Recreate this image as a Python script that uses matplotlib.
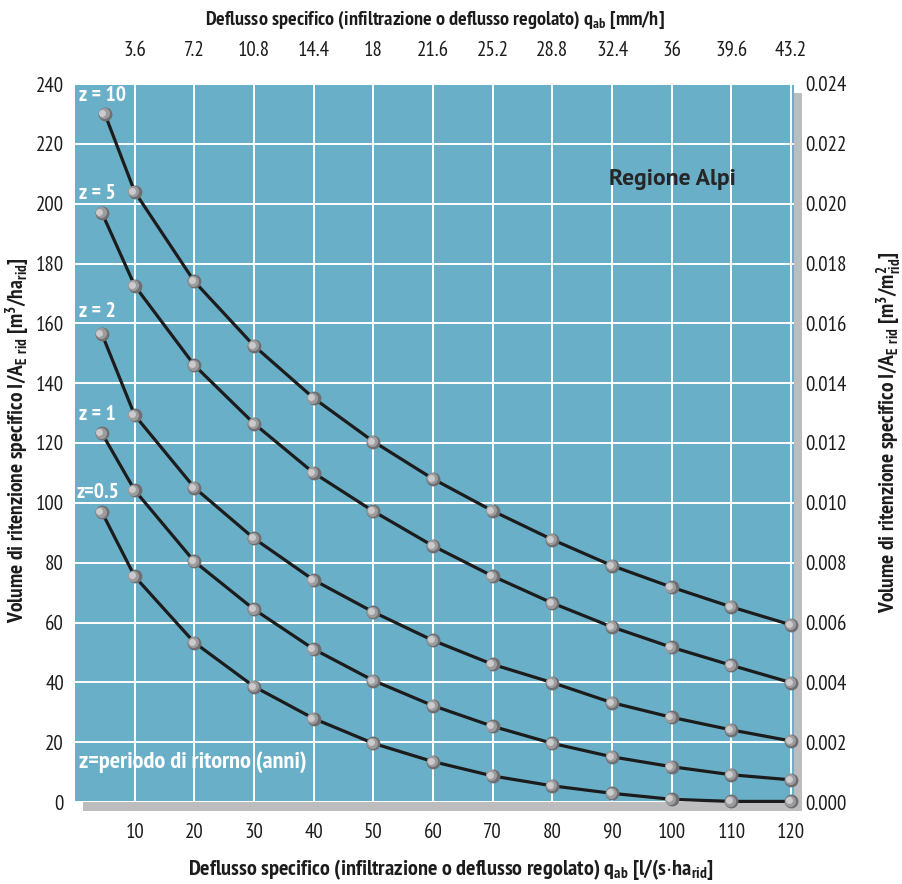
import matplotlib
matplotlib.use("Agg")
import matplotlib.pyplot as plt
from matplotlib import font_manager
from matplotlib.patches import Rectangle
from matplotlib.transforms import offset_copy

# outflow q_ab [l/(s*ha_rid)] and retention volume [m3/ha_rid] per return period z
q_first = 4.5
q_grid = [10, 20, 30, 40, 50, 60, 70, 80, 90, 100, 110, 120]

z10_q = [5] + q_grid
z10_v = [230, 204, 174, 152.5, 135, 120.5, 108, 97.3, 87.7, 79, 71.8, 65.2, 59.2]
z5_q = [q_first] + q_grid
z5_v = [197, 172.6, 146, 126.5, 110, 97.2, 85.6, 75.5, 66.5, 58.5, 51.7, 45.7, 39.9]
z2_q = [q_first] + q_grid
z2_v = [156.5, 129.3, 105.1, 88.1, 74.2, 63.5, 54, 46, 39.9, 33.2, 28.3, 24.1, 20.4]
z1_q = [q_first] + q_grid
z1_v = [123.3, 104.2, 80.4, 64.4, 51.1, 40.6, 32.2, 25.3, 19.6, 15.1, 11.8, 9.1, 7.4]
z05_q = [q_first] + q_grid
z05_v = [96.9, 75.4, 53.3, 38.6, 27.9, 19.6, 13.5, 8.7, 5.4, 2.9, 0.9, 0.2, 0.2]

y_ticks = list(range(0, 241, 20))
x_ticks = q_grid
top_labels = ["3.6", "7.2", "10.8", "14.4", "18", "21.6", "25.2", "28.8", "32.4", "36", "39.6", "43.2"]
right_labels = ["0.000", "0.002", "0.004", "0.006", "0.008", "0.010", "0.012",
                "0.014", "0.016", "0.018", "0.020", "0.022", "0.024"]


def first_font(candidates, bold=False):
    fonts = font_manager.fontManager.ttflist
    for c in candidates:
        ok = [f for f in fonts if f.name == c and (not bold or f.weight in (700, "bold"))]
        if ok:
            return c
    return "DejaVu Sans"


COND = first_font(["PT Sans Narrow", "Roboto Condensed", "Archivo Narrow", "Fira Sans Condensed",
                   "Encode Sans Condensed", "Liberation Sans Narrow"])
WIDE = first_font(["PT Sans", "Noto Sans", "Open Sans", "Lato"], bold=True)

plt.rcParams["font.family"] = [COND, "DejaVu Sans"]
plt.rcParams["mathtext.fontset"] = "custom"
plt.rcParams["mathtext.rm"] = COND
plt.rcParams["mathtext.bf"] = COND + ":bold"
plt.rcParams["mathtext.default"] = "bf"

BLUE = "#6aafc8"
SHADOW = "#bdbdbf"
INK = "#1c1c1c"

W, H = 902, 884
fig = plt.figure(figsize=(W / 100, H / 100), dpi=100)
x0, x1, y0, y1 = 75, 794, 84, 802
ax = fig.add_axes([x0 / W, 1 - y1 / H, (x1 - x0) / W, (y1 - y0) / H])
ax.set_zorder(2)

# drop shadow behind the plot area
fig.patches.append(Rectangle(((x0 + 8) / W, 1 - (y1 + 9) / H), (x1 - x0) / W, (y1 - y0) / H,
                             transform=fig.transFigure, facecolor=SHADOW, edgecolor="none", zorder=-1))

ax.set_facecolor(BLUE)
ax.set_xlim(0, 120.5)
ax.set_ylim(0, 240)
for s in ax.spines.values():
    s.set_visible(False)
ax.set_xticks(x_ticks)
ax.set_yticks(y_ticks)
ax.grid(True, color="white", linewidth=1.4)
ax.set_axisbelow(True)
ax.tick_params(length=0, labelsize=15, colors=INK)
ax.tick_params(axis="x", pad=15)
ax.tick_params(axis="y", pad=8)

top = ax.secondary_xaxis("top")
top.set_xticks(x_ticks)
top.set_xticklabels(top_labels)
top.tick_params(length=0, labelsize=15, colors=INK, pad=17)
top.spines["top"].set_visible(False)

right = ax.secondary_yaxis("right")
right.set_yticks(y_ticks)
right.set_yticklabels(right_labels)
right.tick_params(length=0, labelsize=15, colors=INK, pad=8)
right.spines["right"].set_visible(False)

# shaded ball markers: dark base with lighter layers shifted to the upper left
mid = offset_copy(ax.transData, fig=fig, x=-1.2, y=0.5, units="dots")
hi = offset_copy(ax.transData, fig=fig, x=-2.4, y=1.0, units="dots")
for q, v in [(z10_q, z10_v), (z5_q, z5_v), (z2_q, z2_v), (z1_q, z1_v), (z05_q, z05_v)]:
    ax.plot(q, v, color=INK, lw=2.3, zorder=3, solid_capstyle="round", clip_on=False)
    ax.plot(q, v, ls="none", marker="o", ms=10, mfc="#6f6f72", mec="none",
            zorder=4, clip_on=False)
    ax.plot(q, v, ls="none", marker="o", ms=8, mfc="#9c9c9e", mec="none",
            zorder=5, clip_on=False, transform=mid)
    ax.plot(q, v, ls="none", marker="o", ms=5, mfc="#cbcbcd", mec="none",
            zorder=6, clip_on=False, transform=hi)

lab = dict(color="white", fontsize=15.5, fontweight="bold", ha="left", va="center")
ax.text(0.7, 236, "z = 10", **lab)
ax.text(0.7, 203.5, "z = 5", **lab)
ax.text(0.7, 164, "z = 2", **lab)
ax.text(0.7, 129.5, "z = 1", **lab)
ax.text(0.3, 103.5, "z=0.5", **lab)
ax.text(0.7, 13.5, "z=periodo di ritorno (anni)", color="white", fontsize=17.5,
        fontweight="bold", ha="left", va="center")
ax.text(89.5, 208, "Regione Alpi", color="#262626", fontsize=17, fontweight="bold",
        family=WIDE, ha="left", va="center")

fig.text(0.482, 1 - 20 / H, r"Deflusso specifico (infiltrazione o deflusso regolato) q$_{ab}$ [mm/h]",
         ha="center", va="center", fontsize=14.6, fontweight="bold", color=INK)
fig.text(0.5, 1 - 869 / H, r"Deflusso specifico (infiltrazione o deflusso regolato) q$_{ab}$ [l/(s$\cdot$ha$_{rid}$]",
         ha="center", va="center", fontsize=16, fontweight="bold", color=INK)
fig.text(18 / W, 1 - 440 / H, r"Volume di ritenzione specifico I/A$_{E\ rid}$ [m$^3$/ha$_{rid}$]",
         rotation=90, ha="center", va="center", fontsize=15.5, fontweight="bold", color=INK)
fig.text(889 / W, 1 - 432 / H, r"Volume di ritenzione specifico I/A$_{E\ rid}$ [m$^3$/m$^2_{rid}$]",
         rotation=90, ha="center", va="center", fontsize=15.5, fontweight="bold", color=INK)

fig.savefig("out.png", dpi=100)
